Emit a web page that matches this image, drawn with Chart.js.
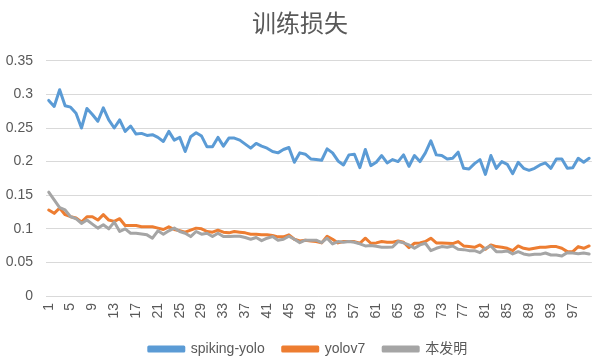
<!DOCTYPE html>
<html>
<head>
<meta charset="utf-8">
<script src="https://cdn.jsdelivr.net/npm/chart.js@4"></script>
<style>
html,body{margin:0;padding:0;background:#fff;overflow:hidden;}
#wrap{width:613px;height:362px;}
</style>
</head>
<body>
<div id="wrap"><canvas id="c" width="613" height="362"></canvas></div>
<script>
const chartTitle = '训练损失';
const seriesNames = ['spiking-yolo', 'yolov7', '本发明'];
const categories = ['1','2','3','4','5','6','7','8','9','10','11','12','13','14','15','16','17','18','19','20',
'21','22','23','24','25','26','27','28','29','30','31','32','33','34','35','36','37','38','39','40',
'41','42','43','44','45','46','47','48','49','50','51','52','53','54','55','56','57','58','59','60',
'61','62','63','64','65','66','67','68','69','70','71','72','73','74','75','76','77','78','79','80',
'81','82','83','84','85','86','87','88','89','90','91','92','93','94','95','96','97','98','99','100'];
const shownTickLabels = ['1','5','9','13','17','21','25','29','33','37','41','45','49','53','57','61','65','69','73','77','81','85','89','93','97'];
const spikingYolo = [0.291,0.282,0.307,0.283,0.281,0.272,0.250,0.279,0.270,0.260,
0.280,0.262,0.250,0.262,0.245,0.253,0.241,0.242,0.239,0.240,
0.236,0.230,0.245,0.232,0.236,0.215,0.237,0.243,0.238,0.222,
0.222,0.236,0.223,0.235,0.235,0.232,0.226,0.220,0.227,0.223,
0.220,0.215,0.213,0.218,0.221,0.199,0.213,0.211,0.204,0.203,
0.202,0.219,0.213,0.201,0.195,0.210,0.211,0.191,0.218,0.194,
0.199,0.209,0.198,0.203,0.200,0.210,0.193,0.209,0.200,0.213,
0.231,0.210,0.209,0.204,0.205,0.214,0.190,0.189,0.197,0.203,
0.181,0.209,0.190,0.200,0.196,0.182,0.199,0.190,0.187,0.190,
0.195,0.198,0.190,0.204,0.204,0.190,0.191,0.205,0.199,0.205];
const yolov7 = [0.128,0.123,0.131,0.121,0.118,0.116,0.110,0.118,0.118,0.113,
0.121,0.113,0.111,0.115,0.105,0.105,0.105,0.103,0.103,0.103,
0.101,0.099,0.103,0.099,0.097,0.095,0.098,0.101,0.100,0.096,
0.095,0.098,0.095,0.094,0.096,0.095,0.094,0.092,0.092,0.091,
0.091,0.090,0.088,0.088,0.091,0.0845,0.082,0.083,0.082,0.081,
0.079,0.089,0.0845,0.079,0.081,0.081,0.081,0.0785,0.086,0.0785,
0.079,0.081,0.080,0.080,0.082,0.080,0.072,0.0785,0.079,0.081,
0.086,0.079,0.079,0.0785,0.078,0.081,0.0745,0.0735,0.0725,0.076,
0.0695,0.076,0.0735,0.0725,0.071,0.0675,0.0745,0.071,0.0695,0.071,
0.0725,0.0725,0.0735,0.0735,0.071,0.066,0.066,0.0735,0.071,0.0745];
const benFaMing = [0.1545,0.143,0.1316,0.128,0.118,0.115,0.108,0.113,0.107,0.101,
0.106,0.100,0.110,0.096,0.100,0.0934,0.0934,0.0924,0.091,0.086,
0.097,0.092,0.097,0.101,0.096,0.0934,0.0884,0.096,0.092,0.0934,
0.0884,0.0934,0.0884,0.0884,0.089,0.089,0.087,0.0845,0.087,0.0824,
0.086,0.0884,0.083,0.0845,0.089,0.0845,0.0794,0.083,0.083,0.083,
0.0794,0.086,0.0775,0.081,0.080,0.081,0.080,0.0775,0.0745,0.075,
0.074,0.0725,0.0725,0.073,0.081,0.079,0.076,0.071,0.076,0.0785,
0.0675,0.071,0.0735,0.0725,0.0745,0.0695,0.069,0.0675,0.0675,0.0645,
0.071,0.0745,0.066,0.066,0.067,0.0626,0.066,0.0626,0.061,0.062,
0.062,0.064,0.061,0.061,0.0596,0.0645,0.064,0.063,0.064,0.0626];
const seriesColors = ['#5B9BD5', '#ED7D31', '#A5A5A5'];

const txtFont = "'Liberation Sans', 'Noto Sans CJK SC', sans-serif";
const txtColor = '#595959';

function mk(label, data, color, order) {
  return {label, data, borderColor: color, backgroundColor: color, borderWidth: 3,
    pointRadius: 0, pointHoverRadius: 0, tension: 0, fill: false,
    borderCapStyle: 'round', borderJoinStyle: 'round', order};
}

const legendShift = {
  id: 'legendShift',
  afterLayout(chart) {
    if (chart.legend) { chart.legend.left += 8; chart.legend.right += 8; }
  }
};

new Chart(document.getElementById('c'), {
  type: 'line',
  plugins: [legendShift],
  data: {
    labels: categories,
    datasets: [
      mk(seriesNames[0], spikingYolo, seriesColors[0], 2),
      mk(seriesNames[1], yolov7, seriesColors[1], 1),
      mk(seriesNames[2], benFaMing, seriesColors[2], 0)
    ]
  },
  options: {
    responsive: false,
    animation: false,
    layout: {padding: {left: 0, right: 13, top: 0, bottom: -4}},
    plugins: {
      tooltip: {enabled: false},
      title: {
        display: true, text: chartTitle, color: txtColor,
        font: {family: "'Noto Sans CJK SC', sans-serif", size: 24, weight: 'normal', lineHeight: 1.2},
        padding: {top: 8, bottom: 24}
      },
      legend: {
        position: 'bottom',
        labels: {
          boxWidth: 35, boxHeight: 4, padding: 18, color: txtColor,
          font: {family: txtFont, size: 14},
          sort: (a, b) => a.datasetIndex - b.datasetIndex
        }
      }
    },
    scales: {
      x: {
        offset: true,
        grid: {display: false, drawTicks: false},
        border: {display: false},
        afterFit: (s) => { s.height = 28; },
        ticks: {
          autoSkip: false, minRotation: 90, maxRotation: 90, padding: 7,
          color: txtColor, font: {family: txtFont, size: 14},
          callback: function(v, i) { const l = categories[i]; return shownTickLabels.includes(l) ? l : ''; }
        }
      },
      y: {
        min: 0, max: 0.35,
        grid: {color: '#d9d9d9', lineWidth: 1, drawTicks: false},
        border: {display: false},
        afterFit: (s) => { s.width = 46; },
        ticks: {
          stepSize: 0.05, padding: 13, color: txtColor, font: {family: txtFont, size: 14},
          callback: (v) => String(Number(v.toFixed(2)))
        }
      }
    }
  }
});
</script>
</body>
</html>
